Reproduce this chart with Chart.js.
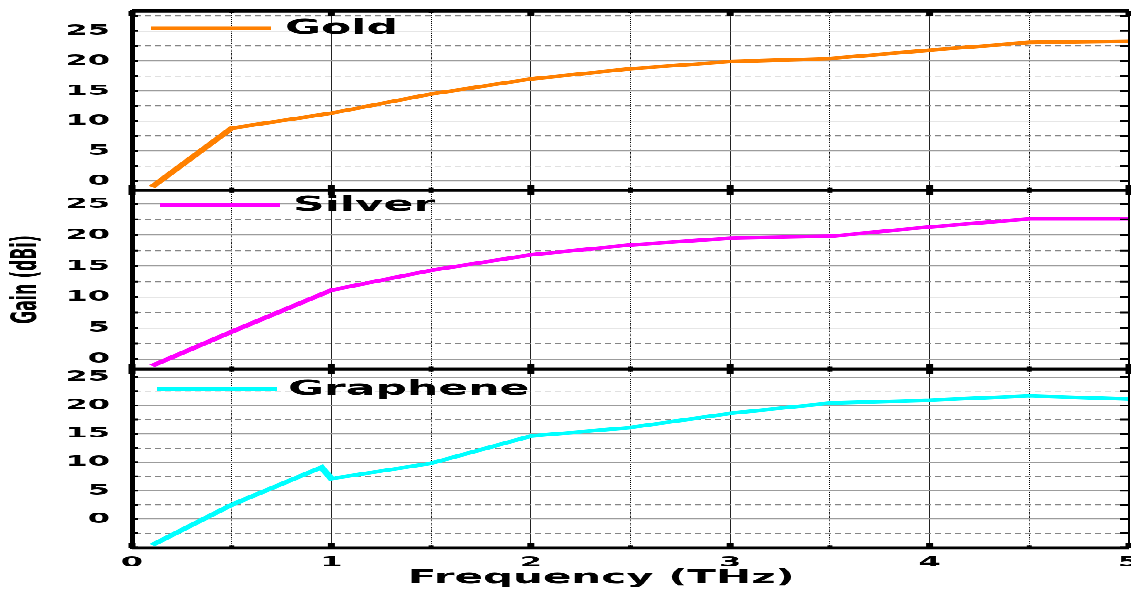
<!doctype html>
<html>
<head>
<title>Gain vs Frequency</title>
<script src="https://cdn.jsdelivr.net/npm/chart.js@4.4.1/dist/chart.umd.min.js"></script>
<style>
body { margin: 0; background: #fff; overflow: hidden; }
#wrap { position: absolute; left: 0; top: 0; width: 1131px; height: 1309px; transform: scaleY(0.44996); transform-origin: 0 0; }
#wrap canvas { position: absolute; left: 0; top: 0; }
</style>
</head>
<body>
<div id="wrap">
  <canvas id="c1" width="1131" height="1309"></canvas>
  <canvas id="c2" width="1131" height="1309"></canvas>
  <canvas id="c3" width="1131" height="1309"></canvas>
</div>
<script>
// values
var goldFreq = [0.1, 0.5, 1, 1.5, 2, 2.5, 3, 3.5, 4, 4.5, 5];
var goldGain = [-1.0, 8.8, 11.3, 14.5, 17.0, 18.7, 19.9, 20.4, 21.8, 23.1, 23.3];
var silverFreq = [0.1, 0.5, 1, 1.5, 2, 2.5, 3, 3.5, 4, 4.5, 5];
var silverGain = [-1.1, 4.4, 11.1, 14.3, 16.8, 18.4, 19.5, 19.8, 21.3, 22.6, 22.6];
var grapheneFreq = [0.1, 0.5, 0.95, 1, 1.5, 2, 2.5, 3, 3.5, 4, 4.5, 5];
var grapheneGain = [-4.6, 2.5, 9.1, 7.1, 9.8, 14.6, 16.1, 18.6, 20.4, 20.9, 21.7, 21.1];
var xTickValues = [0, 0.5, 1, 1.5, 2, 2.5, 3, 3.5, 4, 4.5, 5];
var yTickValues = [-5, -2.5, 0, 2.5, 5, 7.5, 10, 12.5, 15, 17.5, 20, 22.5, 25, 27.5];

var FONT = 'DejaVu Sans';
var S = 589 / 1309;   // the page is squashed vertically by this much
function px(v) { return v / S; }

// panel frame, inward ticks and the in-panel legend
var framePlugin = {
  id: 'frame',
  afterDraw: function (chart, args, opts) {
    var a = chart.chartArea, ctx = chart.ctx;
    var xs = chart.scales.x, ys = chart.scales.y;
    ctx.save();
    ctx.strokeStyle = '#000';
    ctx.fillStyle = '#000';
    ctx.lineWidth = px(3);
    ctx.beginPath();
    ctx.moveTo(a.left, a.top); ctx.lineTo(a.right, a.top);
    ctx.moveTo(a.left, a.bottom); ctx.lineTo(a.right, a.bottom);
    ctx.stroke();
    ctx.lineWidth = 2;
    ctx.beginPath();
    ctx.moveTo(a.right, a.top); ctx.lineTo(a.right, a.bottom);
    ctx.stroke();
    ctx.lineWidth = px(1.8);
    ctx.beginPath();
    ys.ticks.forEach(function (t) {
      var y = ys.getPixelForValue(t.value);
      ctx.moveTo(a.left, y); ctx.lineTo(a.left + 6, y);
      ctx.moveTo(a.right - 9, y); ctx.lineTo(a.right, y);
    });
    ctx.stroke();
    xs.ticks.forEach(function (t) {
      var x = xs.getPixelForValue(t.value);
      var big = t.value % 1 === 0;
      var w = big ? 7 : 5, h = px(big ? 5 : 2.5);
      ctx.fillRect(x - w / 2, a.top, w, h);
      ctx.fillRect(x - w / 2, a.bottom - h, w, h);
    });

    var ds = chart.data.datasets[0];
    var lx = a.left + opts.dx, ly = a.top + px(opts.dy);
    ctx.fillStyle = ds.borderColor;
    ctx.fillRect(lx, ly - px(1.7), 120, px(3.4));
    ctx.fillStyle = '#000';
    ctx.font = 'bold 44px "' + FONT + '"';
    ctx.textBaseline = 'middle';
    ctx.textAlign = 'left';
    ctx.fillText(ds.label, lx + opts.gap, ly + px(0.5));
    ctx.restore();
  }
};

function makeChart(id, name, color, freq, gain, yMin, yMax, top, bottom, isLast, showYTitle, legendPos) {
  var pts = freq.map(function (f, i) { return { x: f, y: gain[i] }; });
  return new Chart(document.getElementById(id), {
    type: 'line',
    data: {
      datasets: [{
        label: name,
        data: pts,
        borderColor: color,
        backgroundColor: color,
        borderWidth: 8,
        pointRadius: 0,
        tension: 0,
        fill: false
      }]
    },
    options: {
      responsive: false,
      animation: false,
      devicePixelRatio: 1,
      layout: {
        autoPadding: false,
        padding: { left: 0, right: 2, top: px(top), bottom: isLast ? 0 : px(589 - bottom) }
      },
      plugins: {
        tooltip: { enabled: false },
        legend: { display: false },
        frame: legendPos
      },
      scales: {
        x: {
          type: 'linear',
          min: 0,
          max: 5,
          afterBuildTicks: function (s) { s.ticks = xTickValues.map(function (v) { return { value: v }; }); },
          afterFit: function (s) { s.height = isLast ? px(41) : 0; s.paddingLeft = 0; s.paddingRight = 0; },
          ticks: {
            display: isLast,
            autoSkip: false,
            maxRotation: 0,
            padding: 14,
            color: '#000',
            font: { family: FONT, size: 32, weight: 'bold' },
            callback: function (v) { return v % 1 === 0 ? String(v) : ''; }
          },
          grid: {
            drawTicks: false,
            lineWidth: 1,
            color: function (c) { return c.tick && c.tick.value % 1 !== 0 ? '#000' : '#222'; }
          },
          border: {
            display: false,
            dash: function (c) { return c.tick && c.tick.value % 1 !== 0 ? [2.2, 2.2] : []; }
          },
          title: {
            display: isLast,
            text: 'Frequency (THz)    ',
            color: '#000',
            font: { family: FONT, size: 42, weight: 'bold', lineHeight: 1 },
            padding: { top: 0, bottom: 3 }
          }
        },
        y: {
          min: yMin,
          max: yMax,
          afterBuildTicks: function (s) {
            s.ticks = yTickValues.filter(function (v) { return v >= s.min && v <= s.max; })
              .map(function (v) { return { value: v }; });
          },
          afterFit: function (s) { s.width = 132; s.paddingTop = 0; s.paddingBottom = 0; },
          ticks: {
            autoSkip: false,
            padding: 22,
            color: '#000',
            font: { family: FONT, size: 32, weight: 'bold' },
            callback: function (v) { return (v % 5 === 0 && v >= 0) ? String(v) : ''; }
          },
          grid: {
            drawTicks: false,
            lineWidth: px(1),
            color: function (c) { return c.tick && c.tick.value % 5 === 0 ? '#9c9c9c' : '#858585'; }
          },
          border: {
            display: true,
            color: '#000',
            width: 5,
            dash: function (c) { return c.tick && c.tick.value % 5 !== 0 ? [6, 4] : []; }
          },
          title: {
            display: showYTitle,
            text: 'Gain (dBi)',
            color: '#000',
            font: { family: FONT, size: 35, weight: 'bold' },
            padding: { top: 6, bottom: 0 }
          }
        }
      }
    },
    plugins: [framePlugin]
  });
}

makeChart('c1', 'Gold', '#ff8000', goldFreq, goldGain, -1.5, 28.33, 11, 190, false, false, { dx: 19, dy: 17, gap: 134 });
makeChart('c2', 'Silver', '#ff00ff', silverFreq, silverGain, -1.61, 27.26, 190, 369, false, true, { dx: 28, dy: 15, gap: 133 });
makeChart('c3', 'Graphene', '#00ffff', grapheneFreq, grapheneGain, -5.1, 26.4, 369, 548, true, false, { dx: 25, dy: 20, gap: 131 });
</script>
</body>
</html>
